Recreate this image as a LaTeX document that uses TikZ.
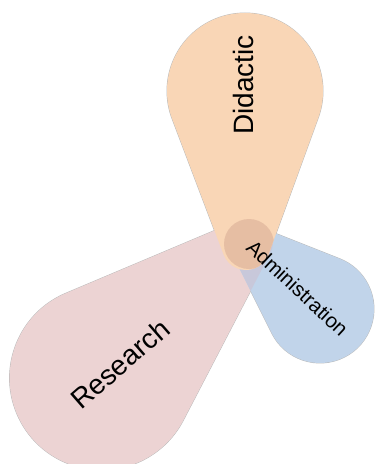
\documentclass[tikz,border=0pt]{standalone}
\usepackage{fontspec}
\setmainfont{Liberation Sans}
\definecolor{didfill}{RGB}{249,214,182}
\definecolor{resfill}{RGB}{236,211,211}
\definecolor{admfill}{RGB}{193,212,234}
\definecolor{hubfill}{RGB}{230,190,163}
\definecolor{mixfill}{RGB}{200,200,218}
\definecolor{rimcol}{RGB}{185,185,185}

% Teardrop: small circle (Tx,Ty,r) joined by tangents to a big circle (Qx,Qy,R)
\newcommand\maketear[7]{%
  \pgfmathsetmacro\tth{atan2(#6-#3,#5-#2)}%
  \pgfmathsetmacro\tdd{veclen(#5-#2,#6-#3)}%
  \pgfmathsetmacro\tal{asin((#7-#4)/\tdd)}%
  \pgfmathsetmacro\taA{\tth+90+\tal}%
  \pgfmathsetmacro\taB{\tth-90-\tal}%
  \pgfmathsetmacro\taC{\taA-360}%
  \expandafter\xdef\csname tear#1\endcsname{%
    ({#2+#4*cos(\taA)},{#3+#4*sin(\taA)}) --
    ({#5+#7*cos(\taA)},{#6+#7*sin(\taA)})
    arc[start angle=\taA, end angle=\taB, radius=#7] --
    ({#2+#4*cos(\taB)},{#3+#4*sin(\taB)})
    arc[start angle=\taB, end angle=\taC, radius=#4] -- cycle}%
}
\maketear{Did}{246}{246}{24}{245}{91}{78}
\maketear{Res}{249}{242}{24}{101.6}{378}{92}
\maketear{Adm}{254}{248.5}{22}{320}{309}{54}

\tikzset{
  rim/.style={draw=rimcol, line width=0.9pt},
  petallabel/.style={inner sep=0pt, text=black},
}

\begin{document}
\begin{tikzpicture}[x=1pt, y=-1pt]
  \useasboundingbox (0,0) rectangle (376,464);
  \clip (0,0) rectangle (376,464);

  % faint outer rims
  \path[rim] \tearRes;
  \path[rim] \tearAdm;
  \path[rim] \tearDid;

  % petals
  \fill[resfill] \tearRes;
  \fill[admfill] \tearAdm;
  \begin{scope}
    \clip \tearRes;
    \fill[mixfill] \tearAdm;
  \end{scope}
  \fill[didfill] \tearDid;
  \begin{scope}
    \clip \tearDid;
    \fill[hubfill] (249,244) circle[radius=25];
  \end{scope}

  % labels
  \node[petallabel, font=\fontsize{28}{30}\selectfont, rotate=90] (did) at (243,85) {Didactic};
  \node[petallabel, font=\fontsize{28}{30}\selectfont, rotate=41] (res) at (120,364) {Research};
  \node[petallabel, font=\fontsize{20.5}{22}\selectfont, rotate=-43] (adm) at (297.5,288) {Administration};
\end{tikzpicture}
\end{document}
